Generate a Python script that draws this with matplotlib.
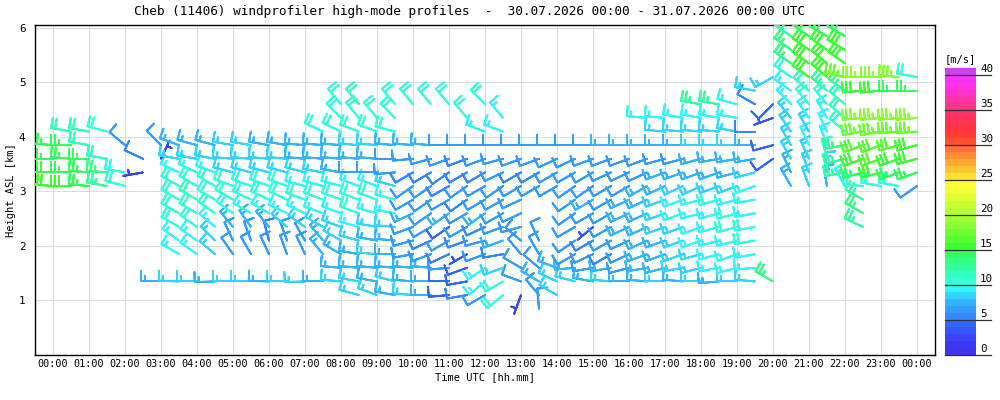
import numpy as np
import matplotlib
matplotlib.use("Agg")
import matplotlib.pyplot as plt
from matplotlib.colors import ListedColormap, BoundaryNorm

plt.rcParams['font.family'] = ['DejaVu Sans Mono']

_ = None
TITLE = "Cheb (11406) windprofiler high-mode profiles  -  30.07.2026 00:00 - 31.07.2026 00:00 UTC"
XLABEL = "Time UTC [hh.mm]"
YLABEL = "Height ASL [km]"
UNIT = "[m/s]"

# profile times (hours, every 30 min) and range-gate heights (km)
TIMES = np.arange(0, 24.01, 0.5)
HEIGHTS = [0.85, 1.10, 1.35, 1.60, 1.85, 2.10, 2.35, 2.60, 2.85, 3.10, 3.35,
           3.60, 3.85, 4.10, 4.35, 4.60, 4.85, 5.10, 5.35, 5.60, 5.85]
XTICK_LABELS = ["00:00", "01:00", "02:00", "03:00", "04:00", "05:00", "06:00",
                "07:00", "08:00", "09:00", "10:00", "11:00", "12:00", "13:00",
                "14:00", "15:00", "16:00", "17:00", "18:00", "19:00", "20:00",
                "21:00", "22:00", "23:00", "00:00"]
YTICKS = [1, 2, 3, 4, 5, 6]
CBAR_TICKS = [0, 5, 10, 15, 20, 25, 30, 35, 40]
CBAR_COLORS = ["#4033ee", "#3a38f2", "#3844f6", "#3555fa", "#3366fc",
               "#3388ff", "#339cff", "#33b4ff", "#33d4ff", "#33f4ff",
               "#33ffdd", "#33ffc0", "#33ffa0", "#33ff80", "#33ff5c",
               "#3cff33", "#55ff33", "#6eff33", "#88ff33", "#a0ff33",
               "#b8ff33", "#ccff33", "#e0ff33", "#f4ff33", "#ffff33",
               "#ffe033", "#ffc433", "#ffa833", "#ff8c33", "#ff7033",
               "#ff5033", "#ff3c33", "#ff3344", "#ff3355", "#ff3366",
               "#ff3388", "#ff33aa", "#ff33cc", "#ff33ee", "#f033f4",
               "#d040f0"]

# wind speed (m/s) per gate, one list per height, 49 profiles each
S00 = [_,_,_,_,_,_,_,_,_,_, _,_,_,_,_,_,_,_,_,_, _,_,_,_,_,_,_,6,_,_, _,_,_,_,_,_,_,_,_,_, _,_,_,_,_,_,_,_,_]
S01 = [_,_,_,_,_,_,_,_,_,_, _,_,_,_,_,_,_,8,8,7, 8,7,4,5,6,10,2,6,8,_, _,_,_,_,_,_,_,_,_,_, _,_,_,_,_,_,_,_,_]
S02 = [_,_,_,_,_,_,7,8,8,7, 8,8,7,8,8,7,8,8,7,8, 7,7,4,4,9,10,6,7,8,8, 7,8,7,7,8,7,8,7,8,8, 13,_,_,_,_,_,_,_,_]
S03 = [_,_,_,_,_,_,_,_,_,_, _,_,_,_,_,_,7,7,7,7, 7,7,6,4,9,8,6,6,7,7, 6,7,6,7,7,8,8,9,9,9, _,_,_,_,_,_,_,_,_]
S04 = [_,_,_,_,_,_,_,9,9,8, 6,6,6,6,6,7,7,7,8,7, 6,6,5,3,6,5,6,6,_,6, 6,5,6,7,7,8,8,9,9,9, _,_,_,_,_,_,_,_,_]
S05 = [_,_,_,_,_,_,_,9,9,8, 6,6,5,6,6,7,8,8,7,7, 6,5,6,5,6,7,6,6,_,6, 5,6,6,7,7,8,9,9,9,10, _,_,_,_,_,_,_,_,_]
S06 = [_,_,_,_,_,_,_,10,10,9, 7,7,7,8,8,8,8,9,8,8, 6,6,4,6,5,6,6,_,_,6, 3,6,7,7,8,8,9,9,10,10, _,_,_,_,_,12,_,_,_]
S07 = [_,_,_,_,_,_,_,10,10,10, 10,9,9,9,9,9,9,10,9,9, 7,6,7,6,7,6,6,_,_,6, 6,6,7,7,8,9,9,9,10,9, _,_,_,_,_,13,_,_,_]
S08 = [_,_,_,_,_,_,_,10,11,10, 10,10,10,10,10,10,10,10,10,9, 6,6,6,5,6,6,6,_,_,6, 7,6,7,7,8,9,9,10,9,9, _,_,_,_,_,12,_,_,_]
S09 = [15,15,14,12,10,_,_,10,10,10, 10,10,10,10,9,9,9,9,9,8, 6,6,5,6,6,6,6,6,6,6, 6,6,6,7,7,8,8,8,8,9, _,7,8,7,9,10,10,10,6]
S10 = [15,14,14,13,10,2,_,9,9,9, 8,8,8,8,8,8,7,6,6,6, 5,5,5,5,5,6,5,5,6,6, 6,6,6,6,7,7,7,7,7,8, _,7,8,8,12,14,15,14,14]
S11 = [14,14,14,11,_,5,2,8,8,8, 8,8,8,8,7,7,7,7,7,6, 6,6,6,5,6,6,6,6,6,6, 6,6,6,6,6,6,7,7,7,7, 4,8,8,9,12,15,16,15,15]
S12 = [14,14,11,_,6,_,6,7,7,7, 8,8,7,7,7,7,7,8,8,7, 7,7,6,6,6,6,6,6,6,6, 6,7,7,7,7,7,8,8,8,7, 4,8,9,9,13,16,16,16,15]
S13 = [_,11,11,10,_,_,_,_,_,_, _,_,_,_,_,10,10,10,10,10, _,_,_,_,9,9,_,_,_,_, _,_,_,_,8,8,8,8,8,5, _,8,8,9,11,17,17,17,17]
S14 = [_,_,_,_,_,_,_,_,_,_, _,_,_,_,_,_,10,10,10,10, _,_,_,10,_,9,_,_,_,_, _,_,_,9,9,9,9,9,9,_, 3,8,9,9,11,18,18,18,18]
S15 = [_,_,_,_,_,_,_,_,_,_, _,_,_,_,_,_,10,11,_,10, 10,10,10,_,10,_,_,_,_,_, _,_,_,_,_,_,12,12,9,5, 4,9,10,10,11,_,_,_,_]
S16 = [_,_,_,_,_,_,_,_,_,_, _,_,_,_,_,_,_,_,_,_, _,_,_,_,_,_,_,_,_,_, _,_,_,_,_,_,_,_,_,8, _,9,11,12,12,15,15,14,14]
S17 = [_,_,_,_,_,_,_,_,_,_, _,_,_,_,_,_,_,_,_,_, _,_,_,_,_,_,_,_,_,_, _,_,_,_,_,_,_,_,_,_, 8,10,15,15,17,18,18,18,10]
S18 = [_,_,_,_,_,_,_,_,_,_, _,_,_,_,_,_,_,_,_,_, _,_,_,_,_,_,_,_,_,_, _,_,_,_,_,_,_,_,_,_, _,13,15,15,15,_,_,_,_]
S19 = [_,_,_,_,_,_,_,_,_,_, _,_,_,_,_,_,_,_,_,_, _,_,_,_,_,_,_,_,_,_, _,_,_,_,_,_,_,_,_,_, _,13,15,15,15,_,_,_,_]
S20 = [_,_,_,_,_,_,_,_,_,_, _,_,_,_,_,_,_,_,_,_, _,_,_,_,_,_,_,_,_,_, _,_,_,_,_,_,_,_,_,_, _,12,14,14,14,_,_,_,_]

# wind direction (degrees, from) per gate
D00 = [_,_,_,_,_,_,_,_,_,_, _,_,_,_,_,_,_,_,_,_, _,_,_,_,_,_,_,355,_,_, _,_,_,_,_,_,_,_,_,_, _,_,_,_,_,_,_,_,_]
D01 = [_,_,_,_,_,_,_,_,_,_, _,_,_,_,_,_,_,285,290,280, 275,270,265,260,240,230,200,320,300,_, _,_,_,_,_,_,_,_,_,_, _,_,_,_,_,_,_,_,_]
D02 = [_,_,_,_,_,_,270,272,270,268, 270,270,272,270,268,270,275,280,280,285, 275,270,270,260,230,240,290,300,295,285, 280,275,270,275,270,275,270,265,270,275, 300,_,_,_,_,_,_,_,_]
D03 = [_,_,_,_,_,_,_,_,_,_, _,_,_,_,_,_,275,275,275,275, 275,275,265,250,235,250,300,310,290,265, 260,260,255,260,255,260,255,260,255,265, _,_,_,_,_,_,_,_,_]
D04 = [_,_,_,_,_,_,_,300,305,310, 325,330,335,340,335,320,300,280,275,270, 260,250,245,240,250,260,320,330,_,240, 245,240,245,250,250,250,255,255,250,260, _,_,_,_,_,_,_,_,_]
D05 = [_,_,_,_,_,_,_,305,305,315, 335,340,345,340,330,320,300,285,280,275, 255,245,240,250,255,250,310,335,_,235, 240,240,245,245,250,250,250,255,255,260, _,_,_,_,_,_,_,_,_]
D06 = [_,_,_,_,_,_,_,300,305,310, 320,325,320,310,305,300,290,285,280,275, 250,240,235,240,245,250,255,_,_,240, 230,240,245,245,250,250,250,255,255,260, _,_,_,_,_,295,_,_,_]
D07 = [_,_,_,_,_,_,_,300,300,305, 305,300,300,295,295,290,290,290,285,280, 245,235,235,240,235,240,245,_,_,235, 240,240,245,245,250,250,255,255,255,260, _,_,_,_,_,300,_,_,_]
D08 = [_,_,_,_,_,_,_,300,300,300, 300,295,295,295,290,290,290,290,290,285, 240,235,240,235,240,240,245,_,_,235, 240,240,245,245,250,250,255,255,255,260, _,_,_,_,_,300,_,_,_]
D09 = [275,270,275,280,285,_,_,300,300,300, 290,290,290,290,285,285,285,290,290,285, 235,235,240,235,240,235,240,240,240,235, 235,240,240,240,245,245,245,250,250,250, _,330,340,350,330,275,280,280,235]
D10 = [270,270,275,275,280,260,_,295,295,290, 285,285,285,285,285,280,280,270,270,265, 240,240,235,240,240,245,240,240,240,240, 240,245,245,245,250,250,250,250,255,255, _,335,340,355,260,255,255,250,250]
D11 = [270,275,270,280,_,295,25,280,280,280, 275,275,275,275,275,275,275,275,275,270, 265,255,250,250,250,255,250,250,245,245, 250,250,250,250,255,255,255,260,260,260, 235,330,335,345,255,250,250,250,255]
D12 = [275,270,280,_,310,_,315,290,285,285, 280,280,280,280,275,275,275,275,275,275, 275,275,270,270,270,270,270,270,270,270, 270,270,270,270,270,270,270,270,270,270, 255,330,335,340,260,250,250,255,255]
D13 = [_,280,280,285,_,_,_,_,_,_, _,_,_,_,_,295,295,290,290,285, _,_,_,_,290,290,_,_,_,_, _,_,_,_,275,275,275,275,280,270, _,325,330,335,310,260,260,265,265]
D14 = [_,_,_,_,_,_,_,_,_,_, _,_,_,_,_,_,315,320,320,315, _,_,_,320,_,320,_,_,_,_, _,_,_,275,275,280,280,280,280,_, 250,320,325,330,310,265,265,265,265]
D15 = [_,_,_,_,_,_,_,_,_,_, _,_,_,_,_,_,320,320,_,320, 320,320,320,_,315,_,_,_,_,_, _,_,_,_,_,_,280,280,285,300, 225,315,320,320,310,_,_,_,_]
D16 = [_,_,_,_,_,_,_,_,_,_, _,_,_,_,_,_,_,_,_,_, _,_,_,_,_,_,_,_,_,_, _,_,_,_,_,_,_,_,_,280, _,305,310,310,305,265,265,270,270]
D17 = [_,_,_,_,_,_,_,_,_,_, _,_,_,_,_,_,_,_,_,_, _,_,_,_,_,_,_,_,_,_, _,_,_,_,_,_,_,_,_,_, 240,305,305,310,280,270,270,275,280]
D18 = [_,_,_,_,_,_,_,_,_,_, _,_,_,_,_,_,_,_,_,_, _,_,_,_,_,_,_,_,_,_, _,_,_,_,_,_,_,_,_,_, _,305,305,310,305,_,_,_,_]
D19 = [_,_,_,_,_,_,_,_,_,_, _,_,_,_,_,_,_,_,_,_, _,_,_,_,_,_,_,_,_,_, _,_,_,_,_,_,_,_,_,_, _,305,305,305,300,_,_,_,_]
D20 = [_,_,_,_,_,_,_,_,_,_, _,_,_,_,_,_,_,_,_,_, _,_,_,_,_,_,_,_,_,_, _,_,_,_,_,_,_,_,_,_, _,305,305,300,300,_,_,_,_]

S_ROWS = [S00, S01, S02, S03, S04, S05, S06, S07, S08, S09, S10,
          S11, S12, S13, S14, S15, S16, S17, S18, S19, S20]
D_ROWS = [D00, D01, D02, D03, D04, D05, D06, D07, D08, D09, D10,
          D11, D12, D13, D14, D15, D16, D17, D18, D19, D20]

# ---- assemble barb data
tt, hh, uu, vv, cc = [], [], [], [], []
for hk, srow, drow in zip(HEIGHTS, S_ROWS, D_ROWS):
    for ti, s, d in zip(TIMES, srow, drow):
        if s is None or d is None:
            continue
        kt = s * 1.94384
        r = np.deg2rad(d)
        tt.append(ti); hh.append(hk)
        uu.append(-kt * np.sin(r)); vv.append(-kt * np.cos(r))
        cc.append(s)

cmap = ListedColormap(CBAR_COLORS)
norm = BoundaryNorm(np.arange(len(CBAR_COLORS) + 1), len(CBAR_COLORS))

fig = plt.figure(figsize=(10, 4), dpi=100)
ax = fig.add_axes([0.035, 0.1125, 0.9, 0.825])
ax.set_xlim(-0.5, 24.5)
ax.set_ylim(0, 6.055)
ax.set_axisbelow(True)
ax.grid(True, color='#dcdcdc', linewidth=0.8)
ax.set_xticks(np.arange(len(XTICK_LABELS)))
ax.set_xticklabels(XTICK_LABELS)
ax.set_yticks(YTICKS)
ax.set_yticklabels([str(y) for y in YTICKS])
ax.tick_params(axis='x', length=0, labelsize=7.3, pad=3)
ax.tick_params(axis='y', length=0, labelsize=7.8, pad=7)
for sp in ax.spines.values():
    sp.set_linewidth(1.0)
    sp.set_color('black')

# barb length: PolyCollection size scaling gives staff ~ length**2/2 points
ax.barbs(tt, hh, uu, vv, cc, cmap=cmap, norm=norm, length=5.4,
         sizes=dict(height=0.5, width=0.0, spacing=0.2, emptybarb=0.1),
         linewidth=1.4, rounding=True, zorder=3)

ax.set_xlabel(XLABEL, fontsize=7.5, labelpad=2)
ax.set_ylabel(YLABEL, fontsize=7.5, labelpad=2)
fig.text(0.47, 0.97, TITLE, ha='center', va='center', fontsize=9.2)

# ---- colorbar
cax = fig.add_axes([0.945, 0.1125, 0.031, 0.7175])
nb = len(CBAR_COLORS)
cax.pcolormesh([0, 1], np.arange(nb + 1), (np.arange(nb) + 0.5).reshape(-1, 1),
               cmap=cmap, norm=norm, shading='flat')
cax.set_xlim(0, 1)
cax.set_ylim(0, nb)
cax.axis('off')
for tv in CBAR_TICKS:
    cax.plot([0, 1.48], [tv, tv], color='#333333', linewidth=0.9, clip_on=False)
    cax.text(1.13, tv + 0.15, str(tv), ha='left', va='bottom', fontsize=7.8)
fig.text(0.945, 0.8525, UNIT, ha='left', va='center', fontsize=7.5)

fig.savefig('out.png', dpi=100)
